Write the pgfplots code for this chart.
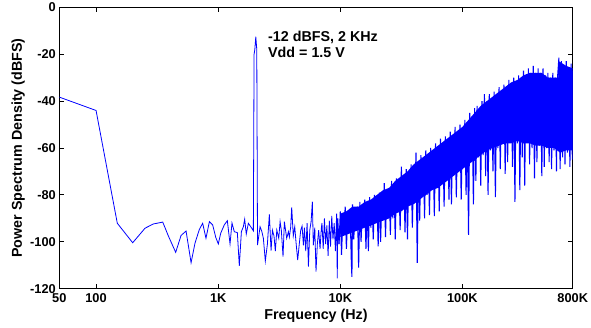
\documentclass[border=0pt]{standalone}
\usepackage{pgfplots}
\pgfplotsset{compat=1.18}
\usepackage{fontspec}
\setmainfont{Liberation Sans}
\definecolor{psd}{RGB}{0,0,255}
\begin{document}
\begin{tikzpicture}
\useasboundingbox (-59.3pt,-39.3pt) rectangle (531.7pt,288.7pt);
\begin{axis}[
  at={(0,0)}, anchor=south west,
  scale only axis, width=513.4pt, height=281.4pt,
  xmin=1.699, xmax=5.903, ymin=-120, ymax=0,
  xtick={1.699,2,3,4,5,5.903},
  xticklabels={50,100,1K,10K,100K,800K},
  ytick={-120,-100,-80,-60,-40,-20,0},
  yticklabels={-120,-100,-80,-60,-40,-20,0},
  tick align=inside, major tick length=5pt,
  axis line style={line width=1pt, black},
  every tick/.style={black, line width=0.8pt},
  tick label style={font=\fontsize{12.8}{14}\selectfont\bfseries},
  xticklabel style={yshift=-1.5pt},
  xlabel={Frequency (Hz)}, ylabel={Power Spectrum Density (dBFS)},
  label style={font=\fontsize{14.3}{16}\selectfont\bfseries},
  xlabel style={at={(axis description cs:0.5,-0.1095)}, anchor=base},
  ylabel style={at={(axis description cs:-0.0799,0.5)}, anchor=center, rotate=0},
  clip=true,
]
% dense core of the noise band
\addplot[fill=psd, draw=none] coordinates {
(4.00,-88) (4.05,-87) (4.10,-85) (4.15,-85) (4.20,-83) (4.25,-82) (4.30,-80)
(4.35,-78) (4.40,-77) (4.45,-74) (4.50,-72) (4.55,-70) (4.60,-67) (4.65,-65)
(4.70,-63) (4.75,-61) (4.80,-59) (4.85,-57) (4.90,-55) (4.95,-53) (5.00,-51)
(5.05,-48) (5.10,-45) (5.15,-42) (5.20,-40) (5.25,-38) (5.30,-36) (5.35,-34)
(5.40,-32) (5.45,-31) (5.50,-29) (5.55,-28) (5.60,-28) (5.65,-28) (5.70,-30)
(5.75,-30) (5.785,-30) (5.79,-23) (5.85,-25) (5.903,-26)
(5.903,-61) (5.85,-61) (5.80,-62) (5.75,-60) (5.70,-60) (5.65,-59) (5.60,-59)
(5.55,-58) (5.50,-58) (5.45,-57) (5.40,-58) (5.35,-58) (5.30,-59) (5.25,-60)
(5.20,-61) (5.15,-63) (5.10,-65) (5.05,-67) (5.00,-69) (4.95,-71) (4.90,-73)
(4.85,-75) (4.80,-77) (4.75,-78) (4.70,-80) (4.65,-82) (4.60,-84) (4.55,-85)
(4.50,-87) (4.45,-88) (4.40,-90) (4.35,-91) (4.30,-92) (4.25,-93) (4.20,-94)
(4.15,-95) (4.10,-96) (4.05,-97) (4.00,-98)
};
\addplot[psd, line width=0.8pt, line join=miter] coordinates {
(1.699,-38.3) (2.000,-44.0) (2.174,-92.1) (2.300,-100.4) (2.401,-94.2)
(2.469,-92.4) (2.546,-91.6) (2.592,-97.5) (2.652,-104.5) (2.696,-97.3)
(2.737,-95.4) (2.778,-108.9) (2.810,-100.6) (2.846,-94.7) (2.873,-92.1)
(2.900,-98.5) (2.928,-91.4) (2.955,-92.8) (2.980,-98.1) (3.001,-100.9)
(3.021,-96.3) (3.050,-92.8) (3.075,-91.0) (3.097,-100.9) (3.113,-92.0)
(3.132,-95.7) (3.157,-96.1) (3.173,-110.3) (3.190,-95.7) (3.206,-93.6)
(3.217,-90.4) (3.230,-96.7) (3.247,-92.1) (3.267,-93.6) (3.288,-95.3)
(3.294,-20) (3.300,-18) (3.308,-12.5) (3.316,-18) (3.322,-101.4)
(3.343,-93.6) (3.357,-95.5) (3.370,-98.5) (3.386,-108.2) (3.403,-101)
(3.419,-88.3) (3.433,-103.8) (3.444,-95) (3.457,-97.5) (3.468,-104)
(3.480,-95) (3.496,-98.5) (3.507,-91.4) (3.517,-95) (3.531,-106.3)
(3.542,-91.4) (3.561,-98.5) (3.575,-95.7) (3.583,-98) (3.594,-93.6)
(3.602,-85.3) (3.615,-97.5) (3.627,-93.6) (3.637,-100) (3.651,-107.8)
(3.664,-101) (3.676,-95) (3.687,-93.3) (3.698,-101.5) (3.706,-94)
(3.717,-104) (3.728,-92) (3.739,-110.6) (3.750,-95) (3.761,-91.4)
(3.771,-82.9) (3.779,-101.5) (3.791,-94) (3.801,-112.7) (3.812,-101)
(3.823,-95) (3.834,-103) (3.845,-94)
(3.85,-92) (3.86,-103) (3.87,-90) (3.88,-101) (3.89,-93) (3.90,-106)
(3.91,-91) (3.92,-102) (3.93,-89) (3.94,-99) (3.95,-92) (3.96,-104)
(3.97,-88) (3.975,-115.6) (3.98,-90) (3.99,-101)
};
\addplot[psd, line width=1.05pt, line join=miter] coordinates {
(3.99,-101)
(4.00,-87) (4.01,-105.6) (4.02,-90) (4.03,-96) (4.04,-85) (4.05,-103)
(4.06,-89) (4.07,-94) (4.08,-86) (4.09,-108) (4.095,-115) (4.10,-84)
(4.11,-99) (4.12,-88) (4.13,-93) (4.14,-85) (4.15,-111) (4.16,-83)
(4.17,-100) (4.18,-86) (4.19,-92) (4.20,-82) (4.21,-103) (4.22,-85)
(4.23,-104) (4.24,-81) (4.25,-94) (4.26,-84) (4.27,-99) (4.28,-80)
(4.29,-91) (4.30,-82) (4.31,-102) (4.32,-79) (4.33,-100) (4.34,-81)
(4.35,-89) (4.36,-75) (4.37,-98) (4.38,-79) (4.39,-88) (4.40,-77)
(4.41,-97) (4.42,-74) (4.43,-90) (4.44,-76) (4.45,-99) (4.46,-73)
(4.47,-86) (4.48,-75) (4.49,-95) (4.50,-68) (4.51,-84) (4.52,-72)
(4.53,-96) (4.54,-69) (4.55,-99) (4.56,-71) (4.57,-83) (4.58,-67)
(4.59,-94) (4.60,-68) (4.61,-81) (4.62,-62) (4.63,-109) (4.64,-66)
(4.65,-91) (4.66,-63) (4.67,-79) (4.68,-65) (4.69,-90) (4.70,-61)
(4.71,-80) (4.72,-63) (4.73,-88.6) (4.74,-60) (4.75,-78) (4.76,-62)
(4.77,-89) (4.78,-58) (4.79,-76) (4.80,-60) (4.81,-87) (4.82,-56)
(4.83,-74) (4.84,-58) (4.85,-85) (4.86,-55) (4.87,-73) (4.88,-57)
(4.89,-82) (4.90,-53) (4.91,-84) (4.92,-55) (4.93,-71) (4.94,-51)
(4.95,-81) (4.96,-54) (4.97,-69) (4.98,-50) (4.99,-82) (5.00,-52)
(5.01,-68) (5.02,-48) (5.03,-80) (5.04,-49) (5.05,-97) (5.06,-45)
(5.07,-66) (5.08,-47) (5.09,-84) (5.10,-43) (5.11,-74) (5.12,-42)
(5.13,-64) (5.14,-45) (5.15,-76) (5.16,-40) (5.17,-63) (5.18,-37)
(5.19,-72) (5.20,-40) (5.21,-80) (5.22,-37) (5.23,-61) (5.24,-39)
(5.25,-70) (5.26,-36) (5.27,-81) (5.28,-38) (5.29,-60) (5.30,-34)
(5.31,-69) (5.32,-36) (5.33,-58) (5.34,-33) (5.35,-71) (5.36,-35)
(5.37,-66) (5.38,-31) (5.39,-57) (5.40,-33) (5.41,-68) (5.42,-30)
(5.43,-83) (5.44,-32) (5.45,-58) (5.46,-29) (5.47,-78) (5.48,-31)
(5.49,-64) (5.50,-27) (5.51,-76) (5.52,-29) (5.53,-57) (5.54,-26)
(5.55,-67) (5.56,-28) (5.57,-60) (5.58,-25) (5.59,-73) (5.60,-28)
(5.61,-66) (5.62,-26) (5.63,-59) (5.64,-28) (5.65,-72) (5.66,-26)
(5.67,-68) (5.68,-29) (5.69,-60) (5.70,-28) (5.71,-66) (5.72,-30)
(5.73,-69) (5.74,-28) (5.75,-61) (5.76,-30) (5.77,-70) (5.78,-29)
(5.79,-21.5) (5.80,-69) (5.81,-23) (5.82,-64) (5.83,-25) (5.84,-67)
(5.85,-23) (5.86,-62) (5.87,-26) (5.88,-68) (5.89,-24) (5.90,-65)
(5.903,-27)
};
\node[anchor=base west, inner sep=0pt, font=\fontsize{14.3}{16}\selectfont\bfseries] at (axis cs:3.408,-14.67) {-12 dBFS, 2 KHz};
\node[anchor=base west, inner sep=0pt, font=\fontsize{14.3}{16}\selectfont\bfseries] at (axis cs:3.408,-21.3) {Vdd = 1.5 V};
\end{axis}
\end{tikzpicture}
\end{document}
